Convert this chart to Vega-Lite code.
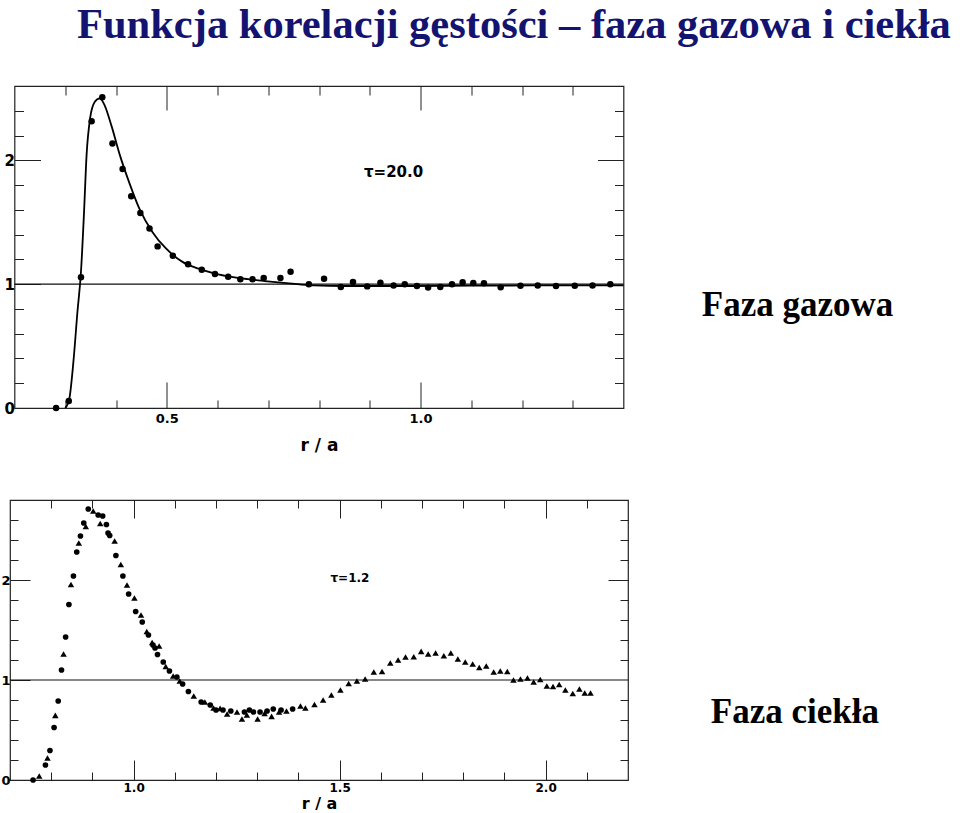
{
  "$schema": "https://vega.github.io/schema/vega-lite/v6.json",
  "background": "white",
  "padding": {"left": 0, "top": 4, "right": 0, "bottom": 0},
  "title": {"text": "Funkcja korelacji gęstości – faza gazowa i ciekła", "font": "Liberation Serif", "fontSize": 42.5, "fontWeight": "bold", "color": "#131370", "anchor": "start", "frame": "group", "dx": 67, "offset": 38},
  "bounds": "flush",
  "center": true,
  "spacing": 92,
  "datasets": {
    "gas": [
      {"r": 0.282, "g": 0}, {"r": 0.307, "g": 0.057}, {"r": 0.331, "g": 1.055}, {"r": 0.352, "g": 2.315},
      {"r": 0.373, "g": 2.51}, {"r": 0.393, "g": 2.135}, {"r": 0.413, "g": 1.93}, {"r": 0.43, "g": 1.71},
      {"r": 0.448, "g": 1.575}, {"r": 0.466, "g": 1.45}, {"r": 0.482, "g": 1.305}, {"r": 0.512, "g": 1.23},
      {"r": 0.542, "g": 1.16}, {"r": 0.569, "g": 1.117}, {"r": 0.595, "g": 1.082}, {"r": 0.621, "g": 1.06},
      {"r": 0.645, "g": 1.04}, {"r": 0.669, "g": 1.04}, {"r": 0.691, "g": 1.05}, {"r": 0.724, "g": 1.05},
      {"r": 0.744, "g": 1.1}, {"r": 0.78, "g": 0.999}, {"r": 0.81, "g": 1.044}, {"r": 0.843, "g": 0.977},
      {"r": 0.867, "g": 1.017}, {"r": 0.895, "g": 0.982}, {"r": 0.921, "g": 1.012}, {"r": 0.947, "g": 0.99},
      {"r": 0.969, "g": 0.999}, {"r": 0.993, "g": 0.985}, {"r": 1.015, "g": 0.972}, {"r": 1.039, "g": 0.977},
      {"r": 1.062, "g": 0.999}, {"r": 1.083, "g": 1.015}, {"r": 1.104, "g": 1.01}, {"r": 1.125, "g": 1.007},
      {"r": 1.158, "g": 0.974}, {"r": 1.197, "g": 0.988}, {"r": 1.231, "g": 0.99}, {"r": 1.267, "g": 0.985},
      {"r": 1.304, "g": 0.988}, {"r": 1.339, "g": 0.99}, {"r": 1.374, "g": 0.999}
    ],
    "gasCurve": [
      {"r": 0.3, "g": 0}, {"r": 0.308, "g": 0.075}, {"r": 0.316, "g": 0.37}, {"r": 0.324, "g": 0.775},
      {"r": 0.331, "g": 1.1}, {"r": 0.337, "g": 1.58}, {"r": 0.342, "g": 2.04}, {"r": 0.349, "g": 2.34},
      {"r": 0.358, "g": 2.47}, {"r": 0.368, "g": 2.5}, {"r": 0.378, "g": 2.44}, {"r": 0.391, "g": 2.28},
      {"r": 0.407, "g": 2.05}, {"r": 0.427, "g": 1.81}, {"r": 0.446, "g": 1.61}, {"r": 0.472, "g": 1.42},
      {"r": 0.498, "g": 1.29}, {"r": 0.531, "g": 1.18}, {"r": 0.563, "g": 1.125}, {"r": 0.595, "g": 1.085},
      {"r": 0.628, "g": 1.058}, {"r": 0.66, "g": 1.04}, {"r": 0.693, "g": 1.025}, {"r": 0.725, "g": 1.012},
      {"r": 0.758, "g": 1.0}, {"r": 0.79, "g": 0.99}, {"r": 0.85, "g": 0.985}, {"r": 0.95, "g": 0.985},
      {"r": 1.05, "g": 0.987}, {"r": 1.15, "g": 0.988}, {"r": 1.25, "g": 0.99}, {"r": 1.4, "g": 0.99}
    ],
    "liquidCircles": [
      {"r": 0.756, "g": 0}, {"r": 0.786, "g": 0.15}, {"r": 0.797, "g": 0.295}, {"r": 0.807, "g": 0.525},
      {"r": 0.817, "g": 0.79}, {"r": 0.825, "g": 1.1}, {"r": 0.835, "g": 1.43}, {"r": 0.843, "g": 1.755},
      {"r": 0.854, "g": 2.04}, {"r": 0.862, "g": 2.28}, {"r": 0.871, "g": 2.44}, {"r": 0.879, "g": 2.57},
      {"r": 0.89, "g": 2.71}, {"r": 0.914, "g": 2.65}, {"r": 0.925, "g": 2.64}, {"r": 0.934, "g": 2.555},
      {"r": 0.938, "g": 2.47}, {"r": 0.942, "g": 2.445}, {"r": 0.957, "g": 2.245}, {"r": 0.974, "g": 2.04},
      {"r": 0.988, "g": 1.86}, {"r": 1.005, "g": 1.685}, {"r": 1.021, "g": 1.58}, {"r": 1.036, "g": 1.45},
      {"r": 1.047, "g": 1.35}, {"r": 1.052, "g": 1.32}, {"r": 1.058, "g": 1.255}, {"r": 1.072, "g": 1.18},
      {"r": 1.087, "g": 1.09}, {"r": 1.105, "g": 1.03}, {"r": 1.119, "g": 0.96}, {"r": 1.133, "g": 0.885},
      {"r": 1.164, "g": 0.78}, {"r": 1.186, "g": 0.75}, {"r": 1.2, "g": 0.7}, {"r": 1.217, "g": 0.7},
      {"r": 1.236, "g": 0.69}, {"r": 1.269, "g": 0.68}, {"r": 1.281, "g": 0.7}, {"r": 1.291, "g": 0.68},
      {"r": 1.307, "g": 0.68}, {"r": 1.324, "g": 0.69}, {"r": 1.339, "g": 0.71}, {"r": 1.358, "g": 0.7},
      {"r": 1.386, "g": 0.71}
    ],
    "liquidTriangles": [
      {"r": 0.771, "g": 0.04}, {"r": 0.791, "g": 0.22}, {"r": 0.81, "g": 0.646}, {"r": 0.83, "g": 1.26},
      {"r": 0.848, "g": 1.955}, {"r": 0.867, "g": 2.37}, {"r": 0.884, "g": 2.535}, {"r": 0.902, "g": 2.69},
      {"r": 0.919, "g": 2.565}, {"r": 0.954, "g": 2.39}, {"r": 0.969, "g": 2.155}, {"r": 0.984, "g": 1.95},
      {"r": 1.002, "g": 1.82}, {"r": 1.018, "g": 1.65}, {"r": 1.032, "g": 1.485}, {"r": 1.045, "g": 1.375},
      {"r": 1.062, "g": 1.34}, {"r": 1.078, "g": 1.135}, {"r": 1.096, "g": 1.04}, {"r": 1.112, "g": 0.99},
      {"r": 1.146, "g": 0.84}, {"r": 1.173, "g": 0.78}, {"r": 1.194, "g": 0.72}, {"r": 1.21, "g": 0.716},
      {"r": 1.227, "g": 0.66}, {"r": 1.251, "g": 0.68}, {"r": 1.263, "g": 0.61}, {"r": 1.275, "g": 0.65},
      {"r": 1.301, "g": 0.61}, {"r": 1.318, "g": 0.666}, {"r": 1.335, "g": 0.636}, {"r": 1.353, "g": 0.68},
      {"r": 1.371, "g": 0.69}, {"r": 1.405, "g": 0.74}, {"r": 1.417, "g": 0.72}, {"r": 1.439, "g": 0.755},
      {"r": 1.46, "g": 0.8}, {"r": 1.48, "g": 0.85}, {"r": 1.502, "g": 0.9}, {"r": 1.522, "g": 0.965},
      {"r": 1.542, "g": 0.99}, {"r": 1.562, "g": 1.01}, {"r": 1.583, "g": 1.08}, {"r": 1.603, "g": 1.085},
      {"r": 1.623, "g": 1.17}, {"r": 1.642, "g": 1.2}, {"r": 1.66, "g": 1.23}, {"r": 1.68, "g": 1.233},
      {"r": 1.698, "g": 1.286}, {"r": 1.715, "g": 1.26}, {"r": 1.733, "g": 1.27}, {"r": 1.753, "g": 1.243},
      {"r": 1.77, "g": 1.27}, {"r": 1.787, "g": 1.21}, {"r": 1.805, "g": 1.18}, {"r": 1.823, "g": 1.16},
      {"r": 1.839, "g": 1.125}, {"r": 1.856, "g": 1.14}, {"r": 1.874, "g": 1.08}, {"r": 1.89, "g": 1.09},
      {"r": 1.907, "g": 1.085}, {"r": 1.922, "g": 1.0}, {"r": 1.939, "g": 1.01}, {"r": 1.956, "g": 1.02},
      {"r": 1.971, "g": 0.98}, {"r": 1.987, "g": 1.005}, {"r": 2.003, "g": 0.94}, {"r": 2.018, "g": 0.935},
      {"r": 2.033, "g": 0.955}, {"r": 2.048, "g": 0.9}, {"r": 2.066, "g": 0.865}, {"r": 2.082, "g": 0.91},
      {"r": 2.095, "g": 0.87}, {"r": 2.109, "g": 0.87}
    ]
  },
  "vconcat": [
    {
      "width": 609,
      "height": 322,
      "resolve": {"axis": {"x": "independent", "y": "independent"}},
      "layer": [
        {
          "data": {"values": [{}]},
          "mark": {"type": "rule", "color": "#111", "strokeWidth": 1.1},
          "encoding": {"y": {"datum": 1, "type": "quantitative", "scale": {"domain": [0, 2.6], "nice": false, "zero": false}, "axis": null}}
        },
        {
          "data": {"name": "gasCurve"},
          "mark": {"type": "line", "color": "#000", "strokeWidth": 1.8, "interpolate": "monotone"},
          "encoding": {
            "x": {"field": "r", "type": "quantitative", "scale": {"domain": [0.2, 1.4], "nice": false, "zero": false},
                  "axis": {"orient": "bottom", "values": [0.3, 0.4, 0.6, 0.7, 0.8, 0.9, 1.1, 1.2, 1.3], "tickSize": -8, "labels": false, "title": null}},
            "y": {"field": "g", "type": "quantitative", "scale": {"domain": [0, 2.6], "nice": false, "zero": false},
                  "axis": {"orient": "left", "values": [0.2, 0.4, 0.6, 0.8, 1.2, 1.4, 1.6, 1.8, 2.2, 2.4], "tickSize": -9, "labels": false, "title": null}}
          }
        },
        {
          "data": {"name": "gas"},
          "mark": {"type": "circle", "color": "#000", "opacity": 1, "size": 42},
          "encoding": {
            "x": {"field": "r", "type": "quantitative", "scale": {"domain": [0.2, 1.4], "nice": false, "zero": false},
                  "axis": {"orient": "bottom", "values": [0.5, 1.0], "tickSize": -26, "labelPadding": 30, "format": ".1f", "labelFontSize": 13, "title": "r / a", "titleFontSize": 17, "titlePadding": 12}},
            "y": {"field": "g", "type": "quantitative", "scale": {"domain": [0, 2.6], "nice": false, "zero": false},
                  "axis": {"orient": "left", "values": [0, 1, 2], "tickSize": -26, "labelPadding": 26, "format": "d", "labelFontSize": 15, "title": null}}
          }
        },
        {
          "data": {"values": [{}]},
          "mark": {"type": "text", "text": "τ=20.0", "font": "DejaVu Sans", "fontWeight": "bold", "fontSize": 15, "color": "#000", "align": "center", "baseline": "middle"},
          "encoding": {
            "x": {"datum": 0.947, "type": "quantitative", "scale": {"domain": [0.2, 1.4], "nice": false, "zero": false},
                  "axis": {"orient": "top", "values": [0.3, 0.4, 0.6, 0.7, 0.8, 0.9, 1.1, 1.2, 1.3], "tickSize": -9, "labels": false, "title": null}},
            "y": {"datum": 1.906, "type": "quantitative", "scale": {"domain": [0, 2.6], "nice": false, "zero": false},
                  "axis": {"orient": "right", "values": [0.2, 0.4, 0.6, 0.8, 1.2, 1.4, 1.6, 1.8, 2.2, 2.4], "tickSize": -9, "labels": false, "title": null}}
          }
        },
        {
          "data": {"values": [{}]},
          "mark": {"type": "text", "text": "Faza gazowa", "font": "Liberation Serif", "fontWeight": "bold", "fontSize": 35, "color": "#000", "align": "center", "baseline": "middle"},
          "encoding": {
            "x": {"datum": 1.743, "type": "quantitative", "scale": {"domain": [0.2, 1.4], "nice": false, "zero": false},
                  "axis": {"orient": "top", "values": [0.5, 1.0], "tickSize": -24, "labels": false, "title": null}},
            "y": {"datum": 0.832, "type": "quantitative", "scale": {"domain": [0, 2.6], "nice": false, "zero": false},
                  "axis": {"orient": "right", "values": [2], "tickSize": -26, "labels": false, "title": null}}
          }
        }
      ]
    },
    {
      "width": 618,
      "height": 280,
      "resolve": {"axis": {"x": "independent", "y": "independent"}},
      "layer": [
        {
          "data": {"values": [{}]},
          "mark": {"type": "rule", "color": "#111", "strokeWidth": 1.1},
          "encoding": {"y": {"datum": 1, "type": "quantitative", "scale": {"domain": [0, 2.8], "nice": false, "zero": false}, "axis": null}}
        },
        {
          "data": {"name": "liquidCircles"},
          "mark": {"type": "circle", "color": "#000", "opacity": 1, "size": 32},
          "encoding": {
            "x": {"field": "r", "type": "quantitative", "scale": {"domain": [0.7, 2.2], "nice": false, "zero": false},
                  "axis": {"orient": "bottom", "values": [0.8, 0.9, 1.1, 1.2, 1.3, 1.4, 1.6, 1.7, 1.8, 1.9, 2.1], "tickSize": -8, "labels": false, "title": null}},
            "y": {"field": "g", "type": "quantitative", "scale": {"domain": [0, 2.8], "nice": false, "zero": false},
                  "axis": {"orient": "left", "values": [0.2, 0.4, 0.6, 0.8, 1.2, 1.4, 1.6, 1.8, 2.2, 2.4, 2.6], "tickSize": -8, "labels": false, "title": null}}
          }
        },
        {
          "data": {"name": "liquidTriangles"},
          "mark": {"type": "point", "shape": "triangle-up", "filled": true, "color": "#000", "opacity": 1, "size": 42},
          "encoding": {
            "x": {"field": "r", "type": "quantitative", "scale": {"domain": [0.7, 2.2], "nice": false, "zero": false},
                  "axis": {"orient": "bottom", "values": [1.0, 1.5, 2.0], "tickSize": -20, "labelPadding": 22, "format": ".1f", "labelFontSize": 12, "title": "r / a", "titleFontSize": 16, "titlePadding": 2}},
            "y": {"field": "g", "type": "quantitative", "scale": {"domain": [0, 2.8], "nice": false, "zero": false},
                  "axis": {"orient": "left", "values": [0, 1, 2], "tickSize": -20, "labelPadding": 20, "format": "d", "labelFontSize": 13, "title": null}}
          }
        },
        {
          "data": {"values": [{}]},
          "mark": {"type": "text", "text": "τ=1.2", "font": "DejaVu Sans", "fontWeight": "bold", "fontSize": 12, "color": "#000", "align": "center", "baseline": "middle"},
          "encoding": {
            "x": {"datum": 1.525, "type": "quantitative", "scale": {"domain": [0.7, 2.2], "nice": false, "zero": false},
                  "axis": {"orient": "top", "values": [0.8, 0.9, 1.1, 1.2, 1.3, 1.4, 1.6, 1.7, 1.8, 1.9, 2.1], "tickSize": -8, "labels": false, "title": null}},
            "y": {"datum": 2.02, "type": "quantitative", "scale": {"domain": [0, 2.8], "nice": false, "zero": false},
                  "axis": {"orient": "right", "values": [0.2, 0.4, 0.6, 0.8, 1.2, 1.4, 1.6, 1.8, 2.2, 2.4, 2.6], "tickSize": -8, "labels": false, "title": null}}
          }
        },
        {
          "data": {"values": [{}]},
          "mark": {"type": "text", "text": "Faza ciekła", "font": "Liberation Serif", "fontWeight": "bold", "fontSize": 35, "color": "#000", "align": "center", "baseline": "middle"},
          "encoding": {
            "x": {"datum": 2.605, "type": "quantitative", "scale": {"domain": [0.7, 2.2], "nice": false, "zero": false},
                  "axis": {"orient": "top", "values": [1.0, 1.5, 2.0], "tickSize": -18, "labels": false, "title": null}},
            "y": {"datum": 0.68, "type": "quantitative", "scale": {"domain": [0, 2.8], "nice": false, "zero": false},
                  "axis": {"orient": "right", "values": [2], "tickSize": -20, "labels": false, "title": null}}
          }
        }
      ]
    }
  ],
  "config": {
    "view": {"stroke": "#222", "strokeWidth": 1.2},
    "axis": {
      "grid": false,
      "domain": false,
      "tickColor": "#222",
      "tickWidth": 1,
      "labelFont": "DejaVu Sans",
      "labelFontWeight": "bold",
      "labelColor": "#000",
      "labelOverlap": false,
      "labelFlush": false,
      "titleFont": "DejaVu Sans",
      "titleFontWeight": "bold",
      "titleColor": "#000"
    }
  }
}
